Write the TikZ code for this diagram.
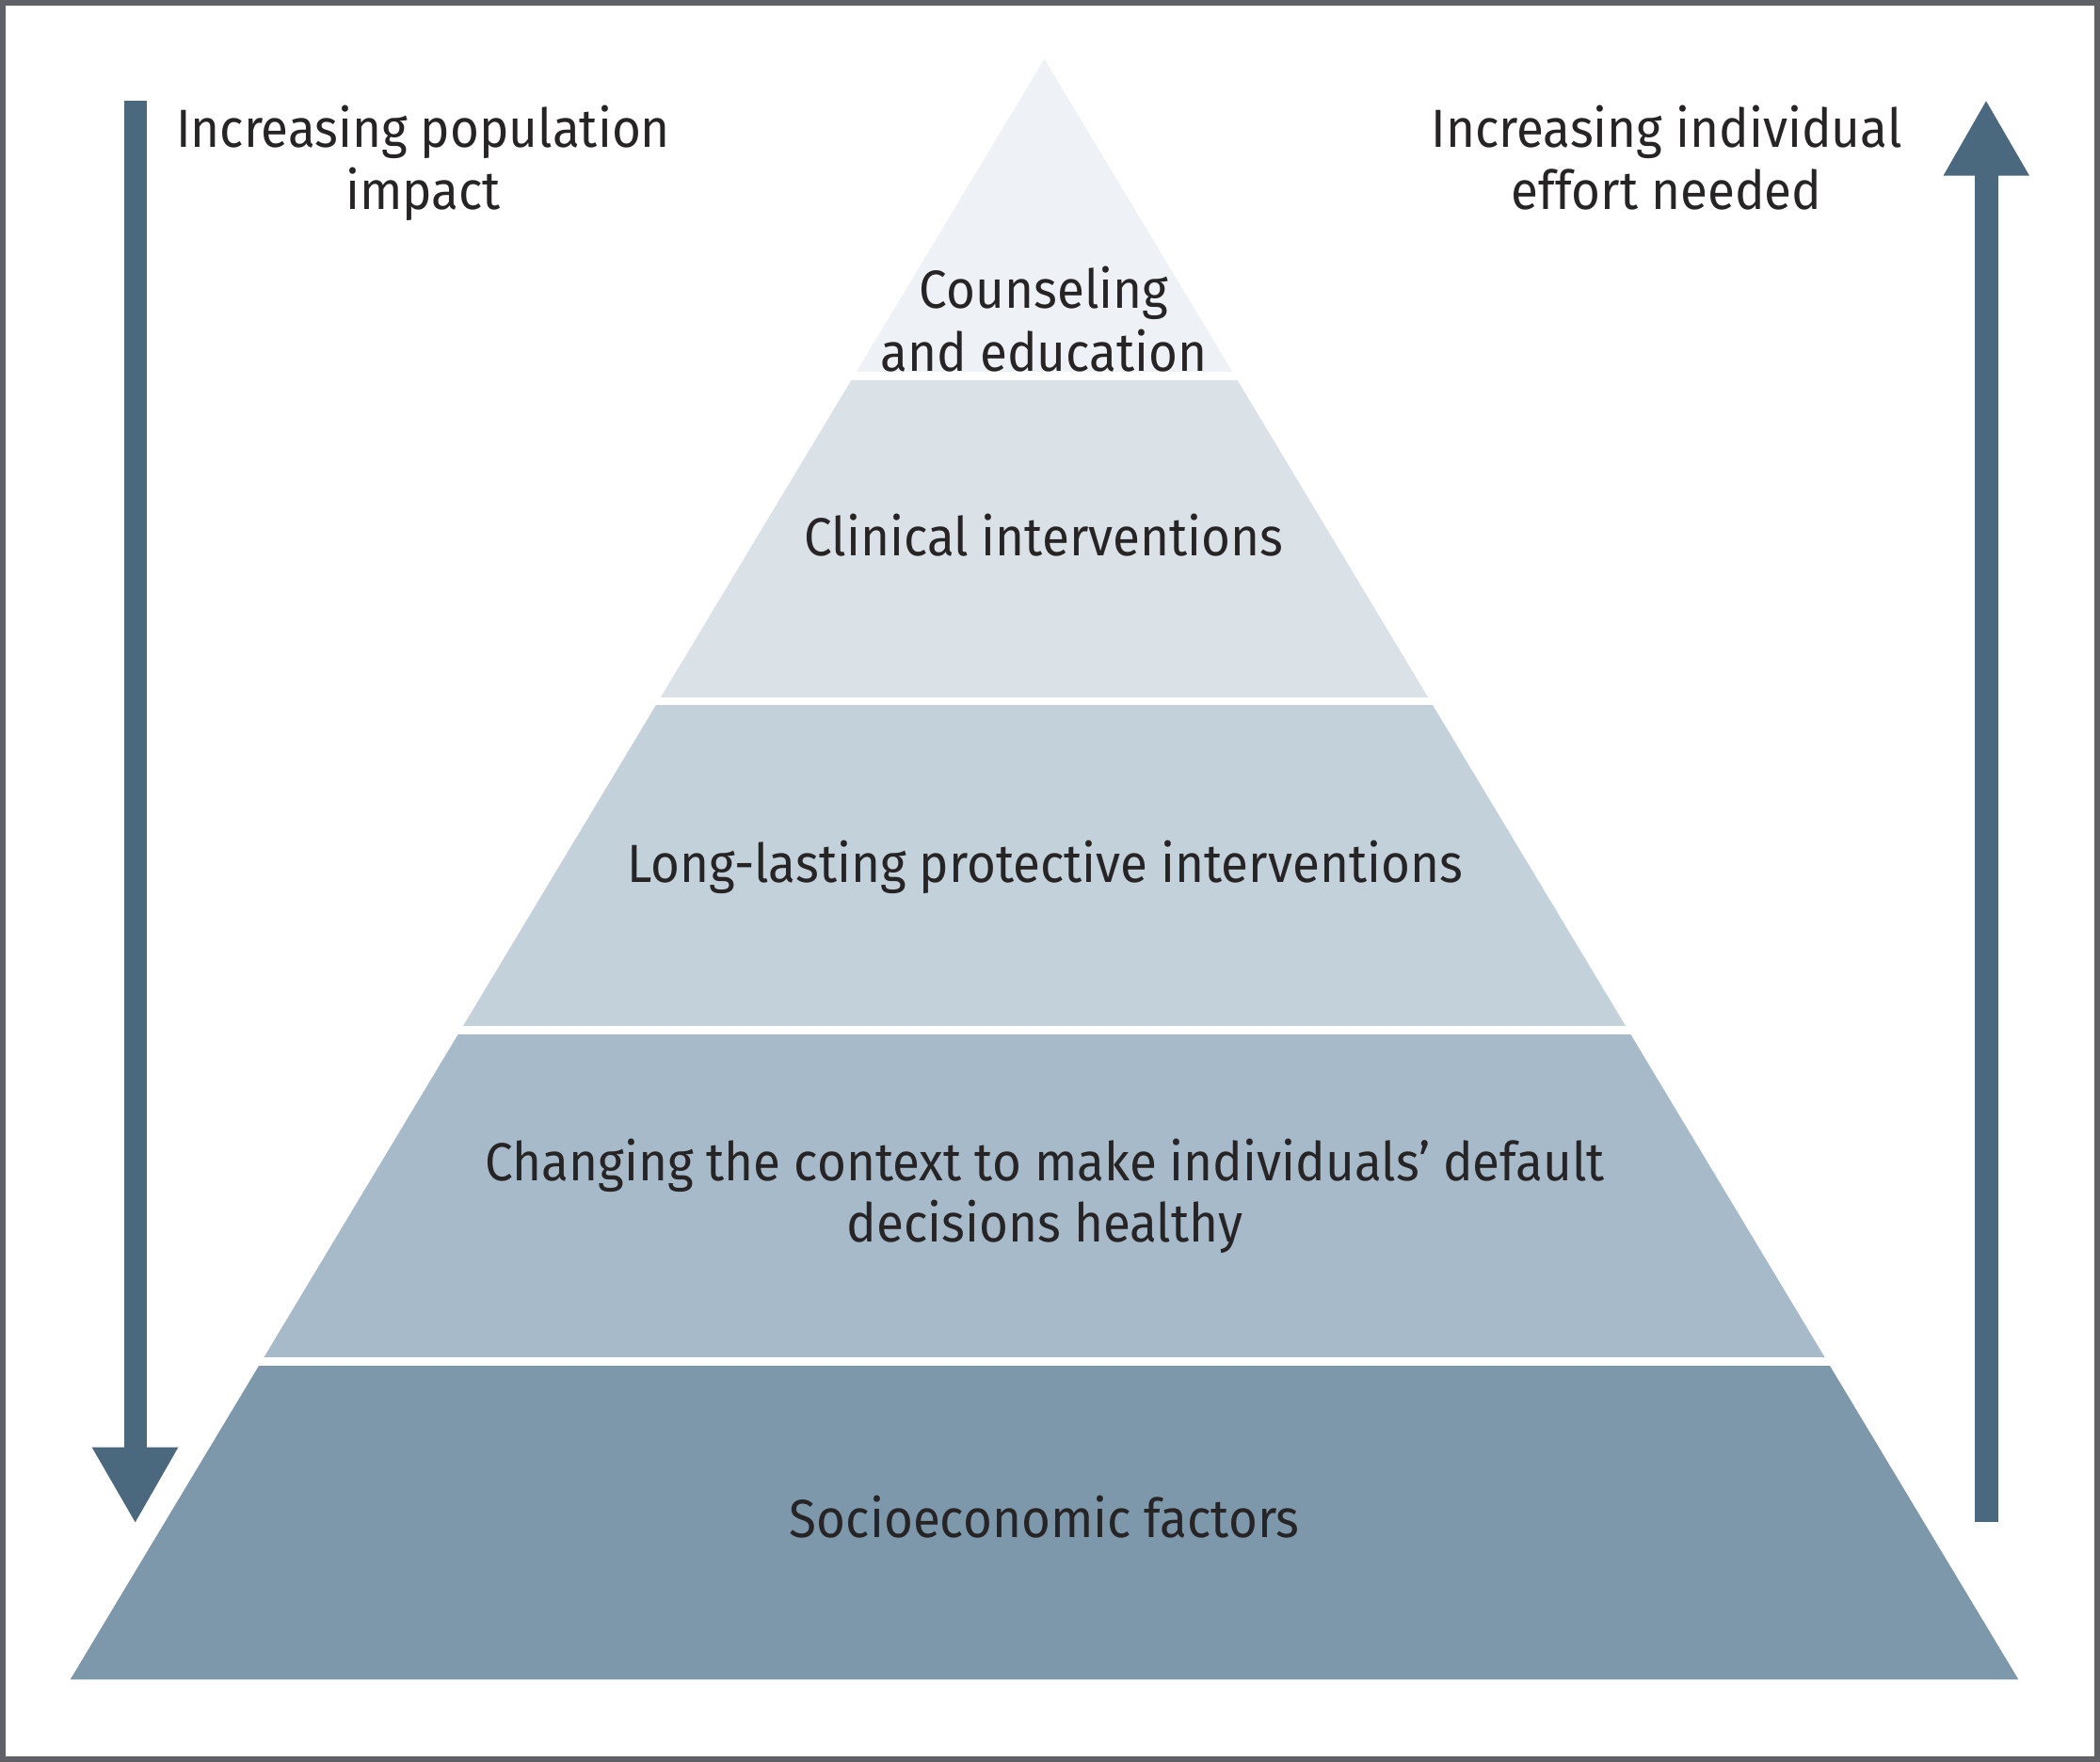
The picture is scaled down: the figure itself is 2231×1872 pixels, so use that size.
\documentclass[tikz,border=0pt]{standalone}
\usepackage{fontspec}
\setmainfont{Fira Sans}[FakeStretch=0.93]
\definecolor{frame}{HTML}{5F6167}
\definecolor{arrowc}{HTML}{4A687E}
\definecolor{layA}{HTML}{EEF2F6}
\definecolor{layB}{HTML}{DAE1E7}
\definecolor{layC}{HTML}{C3D1DA}
\definecolor{layD}{HTML}{A7BAC9}
\definecolor{layE}{HTML}{7E98AB}
\definecolor{txt}{HTML}{262425}
\tikzset{
  lbl/.style={inner sep=0pt, anchor=base, text=txt, font=\fontsize{57}{66}\selectfont},
  gap/.style={fill=white}
}
\begin{document}
\begin{tikzpicture}[x=1pt,y=-1pt]
\useasboundingbox (0,0) rectangle (2231,1872);
% frame
\fill[frame] (0,0) rectangle (2231,1872);
\fill[white] (6,6) rectangle (2225,1866);
% pyramid
\coordinate (apex) at (1109.5,62.7);
\coordinate (bl) at (74.7,1784.3);
\coordinate (br) at (2144.3,1784.3);
\begin{scope}
  \clip (apex) -- (br) -- (bl) -- cycle;
  \fill[layA] (0,0) rectangle (2231,395);
  \fill[layB] (0,404) rectangle (2231,740.7);
  \fill[layC] (0,749.3) rectangle (2231,1090);
  \fill[layD] (0,1099) rectangle (2231,1441.7);
  \fill[layE] (0,1451) rectangle (2231,1790);
\end{scope}
% arrows
\fill[arrowc] (131.5,107.3) rectangle (156,1540);
\fill[arrowc] (97.7,1537.7) -- (189.3,1537.7) -- (143.7,1617.3) -- cycle;
\fill[arrowc] (2097.7,184) rectangle (2122.5,1617.3);
\fill[arrowc] (2064.5,186.7) -- (2156,186.7) -- (2110,107.3) -- cycle;
% labels
\node[lbl] (popA) at (449.5,156.7) {Increasing population};
\node[lbl] (popB) at (449.5,222.7) {impact};
\node[lbl] (effA) at (1770.5,156) {Increasing individual};
\node[lbl] (effB) at (1770.5,222.7) {effort needed};
\node[lbl] (counA) at (1109,327.3) {Counseling};
\node[lbl] (counB) at (1109,394) {and education};
\node[lbl] (clin) at (1109,590) {Clinical interventions};
\node[lbl] (long) at (1110,937.3) {Long-lasting protective interventions};
\node[lbl] (chgA) at (1110,1254) {Changing the context to make individuals’ default};
\node[lbl] (chgB) at (1110,1319.3) {decisions healthy};
\node[lbl] (socio) at (1109.7,1633.3) {Socioeconomic factors};
\end{tikzpicture}
\end{document}
